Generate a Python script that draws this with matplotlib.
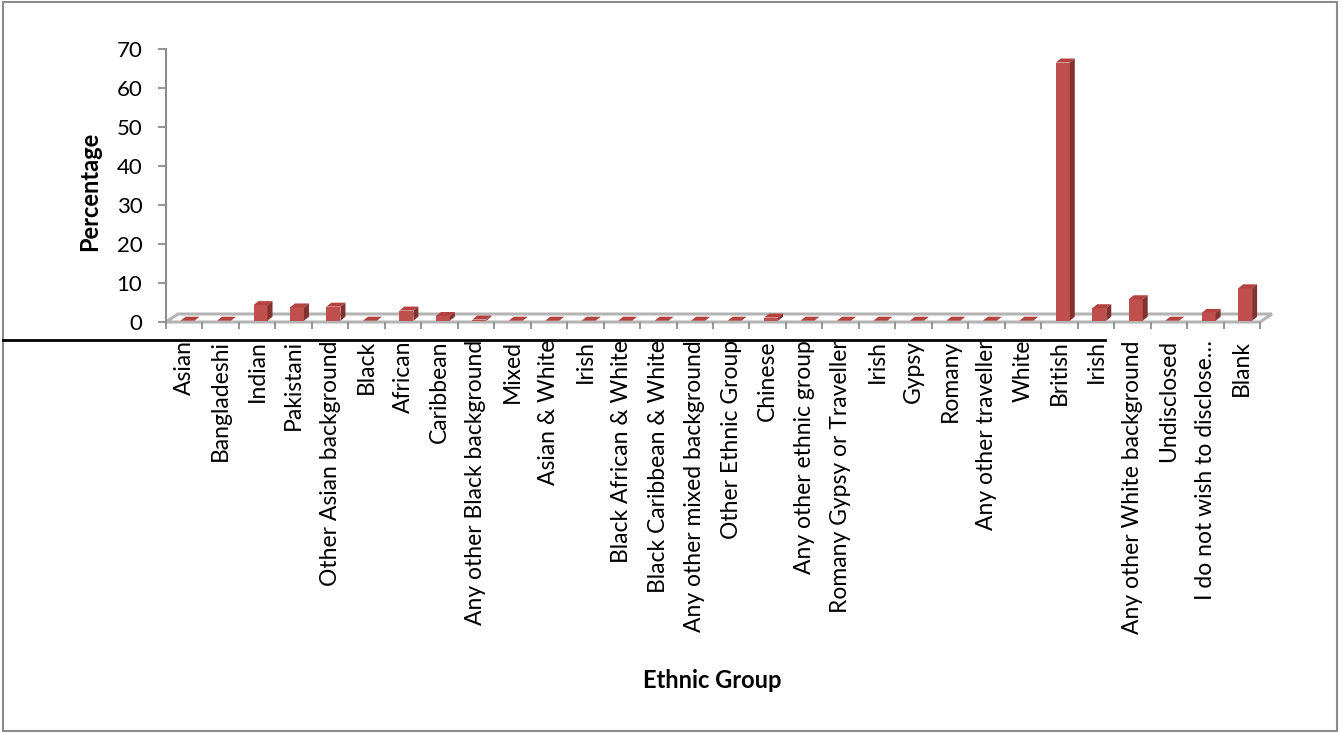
import matplotlib.pyplot as plt
from matplotlib.patches import Polygon, Rectangle
from matplotlib.lines import Line2D

plt.rcParams['font.family'] = ['Lato', 'DejaVu Sans']

groups = ['Asian', 'Bangladeshi', 'Indian', 'Pakistani', 'Other Asian background',
          'Black', 'African', 'Caribbean', 'Any other Black background', 'Mixed',
          'Asian & White', 'Irish', 'Black African & White', 'Black Caribbean & White',
          'Any other mixed background', 'Other Ethnic Group', 'Chinese',
          'Any other ethnic group', 'Romany Gypsy or Traveller', 'Irish', 'Gypsy',
          'Romany', 'Any other traveller', 'White', 'British', 'Irish',
          'Any other White background', 'Undisclosed', 'I do not wish to disclose\u2026',
          'Blank']
percentages = [0, 0, 4.0, 3.4, 3.6, 0, 2.6, 1.2, 0.3, 0,
               0, 0, 0, 0, 0, 0, 0.8, 0, 0, 0,
               0, 0, 0, 0, 66.2, 3.2, 5.5, 0, 2.0, 8.3]
y_ticks = [0, 10, 20, 30, 40, 50, 60, 70]

W, H = 1342, 733
fig = plt.figure(figsize=(W / 100, H / 100), dpi=100)
ax = fig.add_axes([166 / W, 1 - 322 / H, (1260 - 166) / W, (322 - 49) / H])
n = len(groups)
ax.set_xlim(0, n)
ax.set_ylim(0, 70)

# pixel -> data conversion for the fake 3d offsets
ux = n / (1260 - 166)
uy = 70 / (322 - 49)

grey = '#8c8c8c'
front_col = '#C0504D'
top_col = '#B4423F'
side_col = '#843230'

# floor of the 3d chart
fdx, fdy = 12 * ux, 8 * uy
floor = Polygon([(0, 0), (n, 0), (n + fdx, fdy), (fdx, fdy)], closed=True,
                fill=False, edgecolor='#b4b4b4', lw=2.2, clip_on=False, zorder=1)
ax.add_patch(floor)

bw = 14 * ux
off = 3.35 * ux
base = 1.3 * uy
dx, dy = 5 * ux, 4 * uy
for i, v in enumerate(percentages):
    x0 = i + 0.5 + off - bw / 2
    ax.bar(x0, v, width=bw, bottom=base, align='edge', color=front_col,
           lw=0, clip_on=False, zorder=3)
    top = v + base
    ax.add_patch(Polygon([(x0, top), (x0 + bw, top), (x0 + bw + dx, top + dy),
                          (x0 + dx, top + dy)], closed=True, color=top_col,
                         lw=0, clip_on=False, zorder=3))
    ax.add_patch(Polygon([(x0 + bw, base), (x0 + bw + dx, base + dy),
                          (x0 + bw + dx, top + dy), (x0 + bw, top)], closed=True,
                         color=side_col, lw=0, clip_on=False, zorder=3))

for s in ['top', 'right', 'bottom']:
    ax.spines[s].set_visible(False)
ax.spines['left'].set_color(grey)
ax.spines['left'].set_linewidth(1.5)

ax.set_yticks(y_ticks)
ax.tick_params(axis='y', colors=grey, length=6, width=1.3, pad=11,
               labelsize=16, labelcolor='black')

ax.set_xticks([i + 0.5 for i in range(n)])
ax.set_xticklabels(groups, rotation=90, fontsize=16.5, va='top')
ax.set_xticks(range(n + 1), minor=True)
ax.tick_params(axis='x', which='major', length=0, pad=13)
ax.tick_params(axis='x', which='minor', length=5, width=1.3, colors=grey)

fig.text(90 / W, 1 - 191 / H, 'Percentage', rotation=90, ha='center', va='center',
         fontsize=17, fontweight='bold')
fig.text(712 / W, 1 - 680 / H, 'Ethnic Group', ha='center', va='center',
         fontsize=17, fontweight='bold')

fig.add_artist(Line2D([3 / W, 1105 / W], [1 - 340 / H, 1 - 340 / H],
                      color='black', lw=2))
fig.add_artist(Rectangle((3 / W, 2 / H), (1337 - 3) / W, (731 - 2) / H,
                         fill=False, edgecolor=grey, lw=1.5))

fig.savefig('out.png', dpi=100)
